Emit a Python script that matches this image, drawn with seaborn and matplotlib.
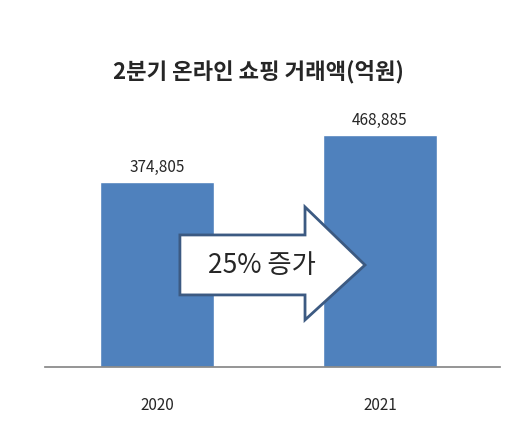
import matplotlib
matplotlib.use("Agg")
import matplotlib.pyplot as plt
from matplotlib.patches import Polygon
import seaborn as sns
import pandas as pd

years = ["2020", "2021"]
sales = [374805, 468885]
title = "2분기 온라인 쇼핑 거래액(억원)"
arrow_text = "25% 증가"

sns.set_theme(style="white")
plt.rcParams["font.family"] = ["Noto Sans CJK KR", "DejaVu Sans"]

df = pd.DataFrame({"year": years, "sales": sales})

fig = plt.figure(figsize=(5.17, 4.42), dpi=100)
ax = fig.add_axes([0.087, 0.170, 0.88, 0.604])
sns.barplot(data=df, x="year", y="sales", color="#4f81bd", saturation=1, width=0.51, ax=ax)

ax.set_xlim(-0.502, 1.538)
ax.set_ylim(0, 540000)
for i, v in enumerate(sales):
    ax.text(i, v + 12000, f"{v:,}", ha="center", va="bottom", fontsize=11)

# arrow between the bars
pts = [(0.103, 266800), (0.664, 266800), (0.664, 323400), (0.933, 206000),
       (0.664, 95000), (0.664, 145500), (0.103, 145500)]
ax.add_patch(Polygon(pts, closed=True, facecolor="white", edgecolor="#3c5a82", lw=2, zorder=5))
ax.text(0.47, 206000, arrow_text, ha="center", va="center", fontsize=19, zorder=6)

for s in ["top", "right", "left"]:
    ax.spines[s].set_visible(False)
ax.spines["bottom"].set_color("#888888")
ax.set_yticks([])
ax.set_xlabel("")
ax.set_ylabel("")
ax.tick_params(axis="x", length=0, pad=22, labelsize=11)

fig.text(0.5, 0.837, title, ha="center", va="center", fontsize=16, fontweight="bold")
fig.savefig("out.png", dpi=100)
